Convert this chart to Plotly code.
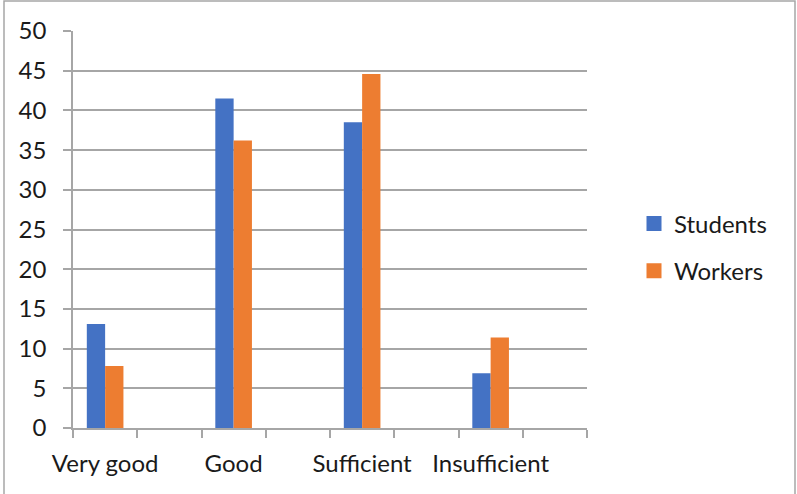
import plotly.graph_objects as go

categories = ["Very good", "Good", "Sufficient", "Insufficient"]
students = [13.1, 41.5, 38.5, 6.9]
workers = [7.8, 36.2, 44.6, 11.4]
y_ticks = [0, 5, 10, 15, 20, 25, 30, 35, 40, 45, 50]
series_names = ["Students", "Workers"]
series_colors = ["#4472C4", "#ED7D31"]

# Axis has an empty slot after each category (as in the original)
axis_cats = []
for i, c in enumerate(categories):
    axis_cats.append(c)
    axis_cats.append(" " * (i + 1))

FONT = "Lato"
GRID = "#a6a6a6"
FS = 24

fig = go.Figure()
for name, vals, col in zip(series_names, [students, workers], series_colors):
    fig.add_trace(go.Bar(x=categories, y=vals, name=name,
                         marker=dict(color=col, line=dict(width=0)),
                         legendgroup=name, showlegend=False))
    # legend entry with a slightly larger square swatch
    fig.add_trace(go.Scatter(x=[None], y=[None], mode="markers", name=name,
                             marker=dict(symbol="square", size=15, color=col),
                             legendgroup=name, showlegend=True))

W, H = 797, 494
ml, mr, mt, mb = 73, 210, 31, 66
pw, ph = W - ml - mr, H - mt - mb


def px_x(x):
    return (x - ml) / pw


def px_y(y):
    return 1 - (y - mt) / ph


fig.update_layout(
    width=W, height=H,
    margin=dict(l=ml, r=mr, t=mt, b=mb, pad=0, autoexpand=False),
    paper_bgcolor="white", plot_bgcolor="white",
    barmode="group", bargap=0.43, bargroupgap=0,
    font=dict(family=FONT, size=FS, color="#1a1a1a"),
    xaxis=dict(type="category", categoryorder="array", categoryarray=axis_cats,
               tickson="boundaries", ticks="outside", ticklen=8, tickcolor=GRID,
               tickwidth=1.5, showline=True, linecolor=GRID, linewidth=1.5,
               showgrid=False, ticklabelstandoff=13, tickangle=0,
               automargin=False,
               tickfont=dict(family=FONT, size=FS), range=[-0.5, 7.5]),
    yaxis=dict(range=[0, 50], tickvals=y_ticks, ticks="outside", ticklen=8,
               tickcolor=GRID, tickwidth=1.5, showline=True, linecolor=GRID,
               linewidth=1.5, showgrid=True, gridcolor=GRID, gridwidth=1.5,
               zeroline=False, ticklabelstandoff=12, automargin=False,
               tickfont=dict(family=FONT, size=FS)),
    legend=dict(x=px_x(634), xanchor="left", y=px_y(247.5),
                yanchor="middle", traceorder="grouped", tracegroupgap=13,
                itemsizing="trace",
                font=dict(family=FONT, size=FS), bgcolor="rgba(0,0,0,0)"),
    showlegend=True,
    shapes=[dict(type="rect", xref="paper", yref="paper",
                 x0=px_x(4), x1=px_x(795), y0=px_y(497), y1=px_y(1),
                 line=dict(color="#a6a6a6", width=1.5), layer="below")],
)

fig.write_html("out.html", config={"displayModeBar": False},
               post_script="document.body.style.margin='0';")
